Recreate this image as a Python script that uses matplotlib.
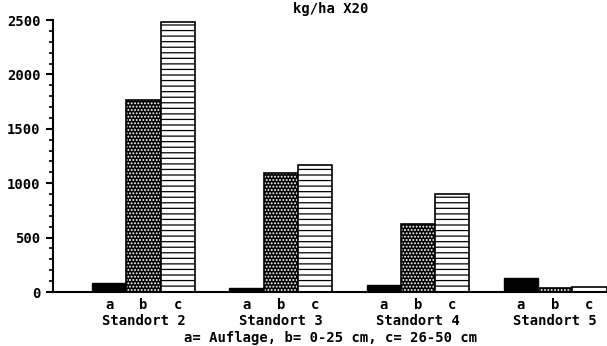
import matplotlib
matplotlib.use("Agg")
import matplotlib.pyplot as plt
from matplotlib.ticker import MultipleLocator
import numpy as np

# values (kg/ha)
standorte = ["Standort 2", "Standort 3", "Standort 4", "Standort 5"]
schichten = ["a", "b", "c"]
auflage = [85, 35, 65, 125]        # a
tiefe_0_25 = [1765, 1090, 625, 40]  # b
tiefe_26_50 = [2480, 1170, 905, 50]  # c
y_ticks = [0, 500, 1000, 1500, 2000, 2500]

plt.rcParams["font.family"] = ["DejaVu Sans Mono"]
plt.rcParams["font.weight"] = "bold"
plt.rcParams["hatch.linewidth"] = 0.9

fig = plt.figure(figsize=(6.07, 3.46), dpi=100)
ax = fig.add_axes([53 / 607, 54 / 346, 1 - 53 / 607, 272 / 346])

group_start = 1.14 + 4 * np.arange(len(standorte))

# a: solid black
ax.bar(group_start, auflage, width=1, align="edge",
       color="black", edgecolor="black", linewidth=1)
# b: black with rows of white dots, outlined afterwards
ax.bar(group_start + 1, tiefe_0_25, width=1, align="edge",
       color="black", edgecolor="white", hatch=".....", linewidth=0)
ax.bar(group_start + 1, tiefe_0_25, width=1, align="edge",
       fill=False, edgecolor="black", linewidth=1.2)
# c: white with horizontal lines
ax.bar(group_start + 2, tiefe_26_50, width=1, align="edge",
       color="white", edgecolor="black", hatch="---", linewidth=1.2)

ax.set_xlim(0, 16.15)
ax.set_ylim(0, 2500)

ax.set_yticks(y_ticks)
ax.set_yticklabels([str(v) for v in y_ticks])
ax.yaxis.set_minor_locator(MultipleLocator(100))
ax.tick_params(axis="y", which="major", length=5, width=1.5, labelsize=10, pad=4)
ax.tick_params(axis="y", which="minor", length=3, width=1.2)

centers = np.concatenate([group_start + i + 0.5 for i in range(3)])
labels = [s for s in schichten for _ in standorte]
ax.set_xticks(centers)
ax.set_xticklabels(labels)
ax.tick_params(axis="x", length=0, labelsize=10, pad=4)

for x, name in zip(group_start + 1.5, standorte):
    ax.text(x, -0.105, name, transform=ax.get_xaxis_transform(),
            ha="center", va="center", fontsize=10, fontweight="bold")

for side in ["top", "right"]:
    ax.spines[side].set_visible(False)
ax.spines["left"].set_linewidth(1.5)
ax.spines["bottom"].set_linewidth(1.5)

fig.text(331 / 607, 1 - 9 / 346, "kg/ha X20", ha="center", va="center",
         fontsize=10, fontweight="bold")
fig.text(331 / 607, 1 - 338 / 346, "a= Auflage, b= 0-25 cm, c= 26-50 cm",
         ha="center", va="center", fontsize=10, fontweight="bold")

fig.savefig("out.png", dpi=100)
